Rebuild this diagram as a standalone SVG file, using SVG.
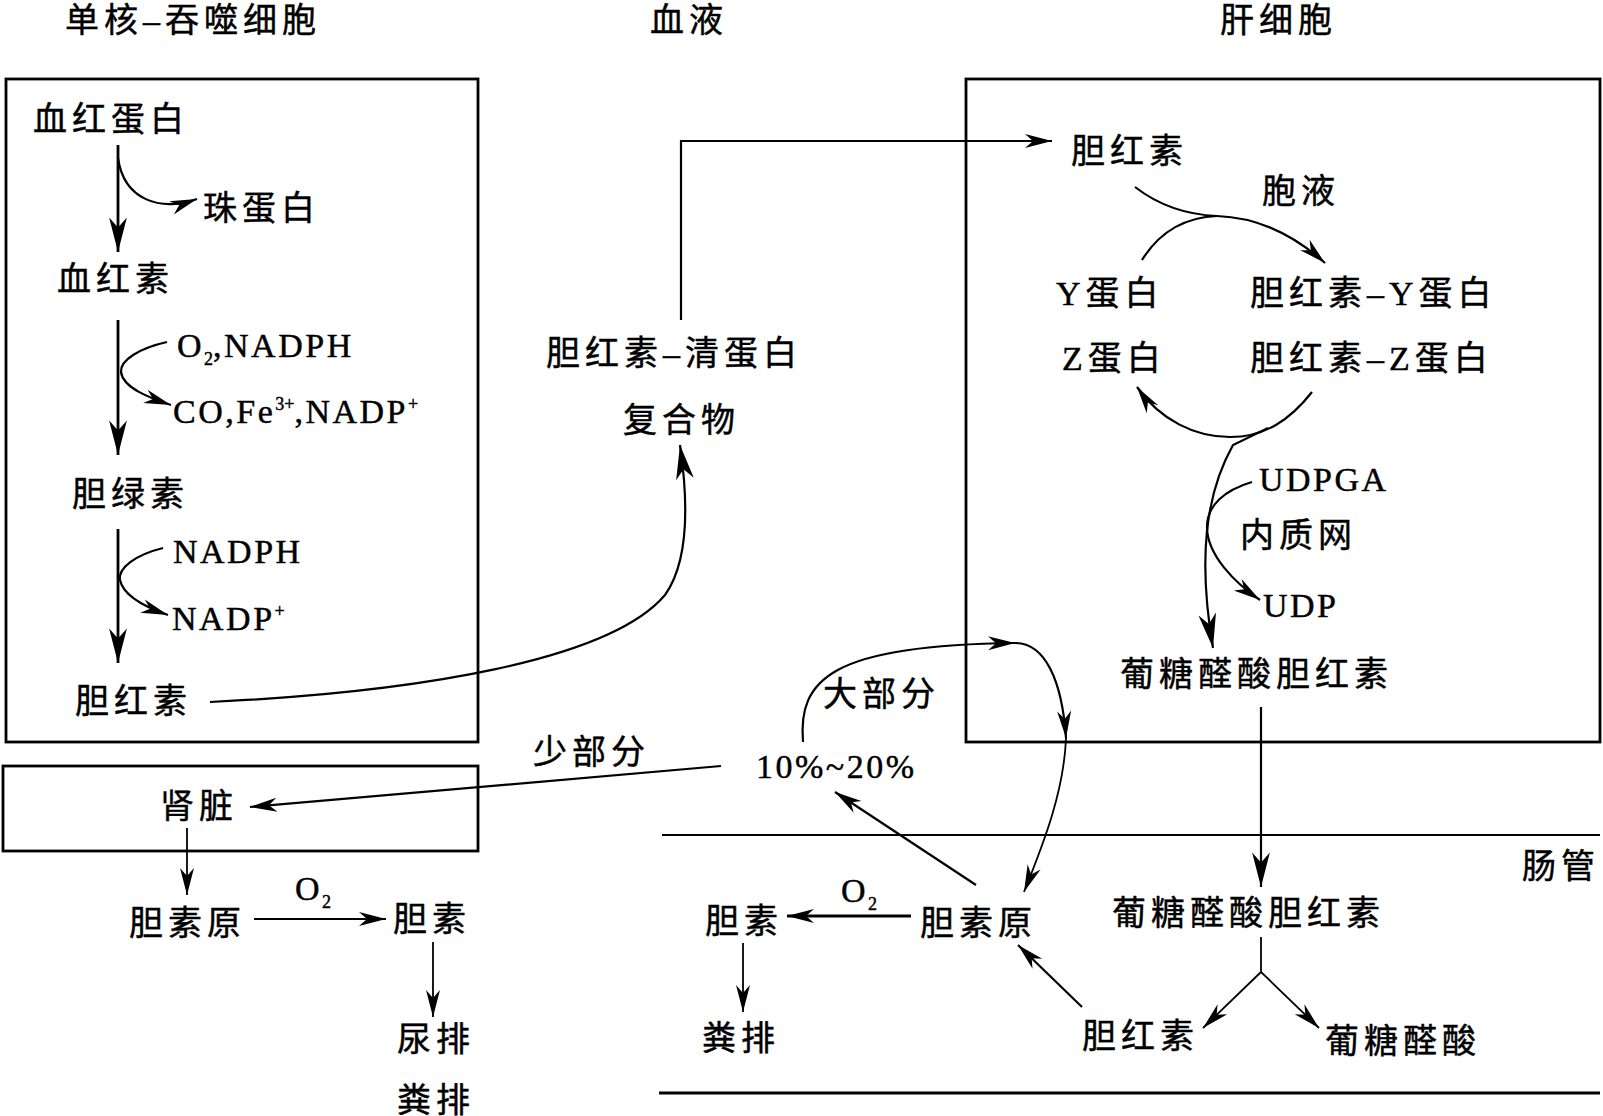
<svg xmlns="http://www.w3.org/2000/svg" width="1603" height="1116" viewBox="0 0 1603 1116">
<defs>
<style>
text{font-family:"Liberation Serif","Noto Sans CJK SC",serif;fill:#000;stroke:#000;stroke-width:0.45px;}
.c{font-size:34px;letter-spacing:5px;}
.l{font-size:34px;letter-spacing:2.5px;}
.s{font-size:18px;letter-spacing:0;}
.box{fill:none;stroke:#000;stroke-width:2.8;}
.ln{fill:none;stroke:#000;stroke-width:2.2;}
.th{fill:none;stroke:#000;stroke-width:2.8;}
.tn{fill:none;stroke:#000;stroke-width:1.8;}
</style>
<marker id="ah" markerUnits="userSpaceOnUse" markerWidth="40" markerHeight="20" viewBox="-32 -9 34 18" refX="0" refY="0" orient="auto">
<path d="M0,0 L-31,-8 L-22,0 L-31,8 Z" fill="#000"/>
</marker>
<marker id="as" markerUnits="userSpaceOnUse" markerWidth="32" markerHeight="16" viewBox="-28 -8 30 16" refX="0" refY="0" orient="auto">
<path d="M0,0 L-27,-7 L-19,0 L-27,7 Z" fill="#000"/>
</marker>
</defs>

<g id="frames">
<rect class="box" x="6" y="79" width="472" height="663"/>
<rect class="box" x="3" y="766" width="475" height="85"/>
<rect class="box" x="966" y="79" width="634" height="663"/>
<line class="tn" x1="662" y1="835" x2="1600" y2="835"/>
<line class="th" x1="659" y1="1093" x2="1600" y2="1093"/>
</g>

<g id="titles">
<text id="t-mono" class="c" x="65" y="32">单核–吞噬细胞</text>
<text id="t-blood" class="c" x="650" y="32">血液</text>
<text id="t-liver" class="c" x="1220" y="32">肝细胞</text>
<text id="t-gut" class="c" x="1522" y="878">肠管</text>
</g>

<g id="n-hb"><text class="c" x="33" y="131">血红蛋白</text></g>
<g id="n-globin"><text class="c" x="203" y="220">珠蛋白</text></g>
<g id="n-heme"><text class="c" x="57" y="291">血红素</text></g>
<g id="n-o2nadph"><text class="l" x="177" y="357">O<tspan class="s" dy="8">2</tspan><tspan dy="-8">,NADPH</tspan></text></g>
<g id="n-cofe"><text class="l" x="173" y="423">CO,Fe<tspan class="s" dy="-13">3+</tspan><tspan dy="13">,NADP</tspan><tspan class="s" dy="-13">+</tspan></text></g>
<g id="n-biliverdin"><text class="c" x="72" y="506">胆绿素</text></g>
<g id="n-nadph"><text class="l" x="173" y="563">NADPH</text></g>
<g id="n-nadp"><text class="l" x="172" y="630">NADP<tspan class="s" dy="-13">+</tspan></text></g>
<g id="n-bil1"><text class="c" x="75" y="713">胆红素</text></g>

<g id="n-albumin"><text class="c" x="546" y="365">胆红素–清蛋白</text><text class="c" x="623" y="432">复合物</text></g>

<g id="n-bil2"><text class="c" x="1071" y="163">胆红素</text></g>
<g id="n-cytosol"><text class="c" x="1262" y="203">胞液</text></g>
<g id="n-y"><text class="c" x="1056" y="305">Y蛋白</text></g>
<g id="n-bily"><text class="c" x="1250" y="305">胆红素–Y蛋白</text></g>
<g id="n-z"><text class="c" x="1062" y="370">Z蛋白</text></g>
<g id="n-bilz"><text class="c" x="1250" y="370">胆红素–Z蛋白</text></g>
<g id="n-udpga"><text class="l" x="1259" y="491">UDPGA</text></g>
<g id="n-er"><text class="c" x="1240" y="547">内质网</text></g>
<g id="n-udp"><text class="l" x="1263" y="617">UDP</text></g>
<g id="n-gbil1"><text class="c" x="1120" y="686">葡糖醛酸胆红素</text></g>

<g id="n-most"><text class="c" x="823" y="706">大部分</text></g>
<g id="n-few"><text class="c" x="533" y="764">少部分</text></g>
<g id="n-pct"><text class="l" x="756" y="778">10%~20%</text></g>

<g id="n-kidney"><text class="c" x="160" y="818">肾脏</text></g>
<g id="n-ubg1"><text class="c" x="129" y="935">胆素原</text></g>
<g id="n-o2a"><text class="l" x="295" y="900">O<tspan class="s" dy="8">2</tspan></text></g>
<g id="n-stc1"><text class="c" x="393" y="931">胆素</text></g>
<g id="n-urine"><text class="c" x="397" y="1051">尿排</text></g>
<g id="n-feces1"><text class="c" x="397" y="1112">粪排</text></g>

<g id="n-gbil2"><text class="c" x="1112" y="925">葡糖醛酸胆红素</text></g>
<g id="n-ubg2"><text class="c" x="920" y="935">胆素原</text></g>
<g id="n-o2b"><text class="l" x="841" y="902">O<tspan class="s" dy="8">2</tspan></text></g>
<g id="n-stc2"><text class="c" x="705" y="933">胆素</text></g>
<g id="n-feces2"><text class="c" x="702" y="1050">粪排</text></g>
<g id="n-bil3"><text class="c" x="1082" y="1048">胆红素</text></g>
<g id="n-gluc"><text class="c" x="1325" y="1053">葡糖醛酸</text></g>

<g id="connectors">
<path class="th" d="M118,145 L118,252" marker-end="url(#ah)"/>
<path class="ln" d="M118,158 C124,200 160,212 197,199" marker-end="url(#as)"/>
<path class="th" d="M118,320 L118,455" marker-end="url(#ah)"/>
<path class="ln" d="M167,342 C140,348 120,360 121,372 C123,388 150,398 171,405" marker-end="url(#as)"/>
<path class="th" d="M118,529 L118,663" marker-end="url(#ah)"/>
<path class="ln" d="M163,548 C135,555 118,568 120,580 C123,595 145,607 168,615" marker-end="url(#as)"/>
<path class="ln" d="M210,702 C420,692 610,660 665,595 C690,560 688,500 680,445" marker-end="url(#ah)"/>
<path class="ln" d="M681,320 L681,141 L1052,141" marker-end="url(#as)"/>
<path class="ln" d="M1135,187 Q1170,214 1217,216 Q1275,218 1325,263" marker-end="url(#as)"/>
<path class="ln" d="M1142,260 Q1168,218 1217,216"/>
<path class="ln" d="M1312,392 C1290,420 1265,437 1230,437 C1195,437 1160,420 1137,387" marker-end="url(#as)"/>
<path class="ln" d="M1268,428 L1233,445 C1205,495 1198,560 1213,648" marker-end="url(#ah)"/>
<path class="ln" d="M1252,482 C1225,490 1207,505 1207,527 C1207,555 1235,583 1260,600" marker-end="url(#as)"/>
<path class="ln" d="M1261,707 L1261,887" marker-end="url(#ah)"/>
<path class="tn" d="M1261,937 L1261,972 M1261,972 L1203,1028" marker-end="url(#as)"/>
<path class="tn" d="M1261,972 L1319,1028" marker-end="url(#as)"/>
<path class="ln" d="M1082,1007 L1018,945" marker-end="url(#as)"/>
<path class="th" d="M911,916 L787,916" marker-end="url(#as)"/>
<path class="tn" d="M743,943 L743,1012" marker-end="url(#as)"/>
<path class="ln" d="M976,885 L835,792" marker-end="url(#as)"/>
<path class="ln" d="M803,742 C798,680 830,645 1015,643" marker-end="url(#as)"/>
<path class="ln" d="M1015,643 C1045,643 1062,680 1066,738" marker-end="url(#as)"/>
<path class="tn" d="M1066,738 C1064,790 1045,840 1024,892" marker-end="url(#as)"/>
<path class="ln" d="M721,766 L250,807" marker-end="url(#as)"/>
<path class="tn" d="M187,828 L187,895" marker-end="url(#as)"/>
<path class="tn" d="M254,919 L386,919" marker-end="url(#as)"/>
<path class="tn" d="M433,942 L433,1017" marker-end="url(#as)"/>
</g>
</svg>
